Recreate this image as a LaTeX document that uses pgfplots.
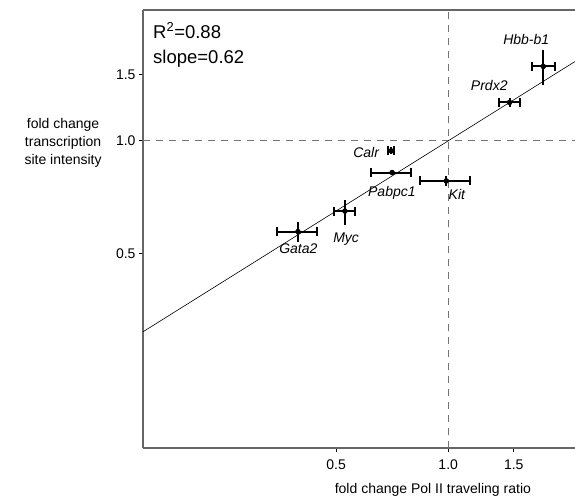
\documentclass[border=0pt]{standalone}
\usepackage{fontspec}
\setmainfont{Liberation Sans}
\usepackage{pgfplots}
\pgfplotsset{compat=1.18}
\usepackage{pgfplotstable}

\pgfplotstableread{
name x y xm xp ym yp
Hbb-b1 1.800 1.578 0.121 0.140 0.168 0.162
Prdx2 1.461 1.265 0.096 0.094 0.035 0.039
Calr 0.703 0.940 0.013 0.013 0.018 0.020
Pabpc1 0.707 0.823 0.087 0.088 0 0
Kit 0.988 0.782 0.149 0.153 0.023 0.025
Myc 0.528 0.650 0.034 0.034 0.053 0.046
Gata2 0.395 0.573 0.048 0.049 0.034 0.033
}\genes

\begin{document}
\begin{tikzpicture}
\begin{axis}[name=ax, scale only axis, width=432pt, height=438pt,
  xmode=log, ymode=log, xmin=0.1515, xmax=2.19, ymin=0.152, ymax=2.23,
  axis x line*=bottom, axis y line*=left,
  axis line style={-, draw=black!60, line width=1.2pt},
  xtick={0.5,1,1.5}, xticklabels={0.5,1.0,1.5},
  ytick={0.5,1,1.5}, yticklabels={0.5,1.0,1.5},
  minor tick num=0,
  tick align=outside, tick style={black, line width=1pt}, major tick length=4pt,
  ticklabel style={font=\fontsize{14}{16}\selectfont},
  xticklabel style={yshift=-4pt},
  xlabel={fold change Pol II traveling ratio},
  xlabel style={font=\fontsize{14}{16}\selectfont, at={(axis description cs:0.671,-0.096)}, anchor=center},
  ylabel={fold change\\transcription\\site intensity},
  ylabel style={font=\fontsize{14}{18}\selectfont, align=center, rotate=-90, at={(axis description cs:-0.185,0.696)}, anchor=center},
  clip=true]
\addplot[black!55, line width=0.8pt, dash pattern=on 7pt off 6pt] coordinates {(0.1515,1) (2.19,1)};
\addplot[black!55, line width=0.8pt, dash pattern=on 7pt off 6pt] coordinates {(1,0.152) (1,2.23)};
\addplot[black, line width=0.6pt] coordinates {(0.1515,0.310) (2.19,1.626)};
\addplot[only marks, mark=none, black,
  error bars/.cd, y dir=both, y explicit, error mark=none,
  error bar style={draw=black, line width=2pt}]
  table[x=x, y=y, y error minus=ym, y error plus=yp] {\genes};
\addplot[only marks, mark=*, mark size=2.5pt, black,
  error bars/.cd, x dir=both, x explicit,
  error bar style={draw=black, line width=2pt},
  error mark options={rotate=90, black, mark size=4.5pt, line width=2pt}]
  table[x=x, y=y, x error minus=xm, x error plus=xp] {\genes};
\begin{scope}[every node/.style={font=\fontsize{14}{16}\selectfont\itshape, anchor=center, inner sep=0pt}]
\node at (axis cs:1.62,1.858) {Hbb-b1};
\node at (axis cs:1.289,1.40) {Prdx2};
\node at (axis cs:0.602,0.931) {Calr};
\node at (axis cs:0.706,0.728) {Pabpc1};
\node at (axis cs:1.055,0.718) {Kit};
\node at (axis cs:0.532,0.547) {Myc};
\node at (axis cs:0.396,0.515) {Gata2};
\end{scope}
\node[font=\fontsize{18.5}{20}\selectfont, anchor=base west, inner sep=0pt] at ([xshift=10pt,yshift=-28pt]rel axis cs:0,1) {R\textsuperscript{2}=0.88};
\node[font=\fontsize{18.5}{20}\selectfont, anchor=base west, inner sep=0pt] at ([xshift=10pt,yshift=-53pt]rel axis cs:0,1) {slope=0.62};
\end{axis}
\draw[black!60, line width=1.2pt] (ax.north west) -- (ax.north east);
\pgfresetboundingbox
\path[use as bounding box] ([xshift=-143pt,yshift=-51pt]ax.south west) rectangle ([yshift=10pt]ax.north east);
\end{tikzpicture}
\end{document}
